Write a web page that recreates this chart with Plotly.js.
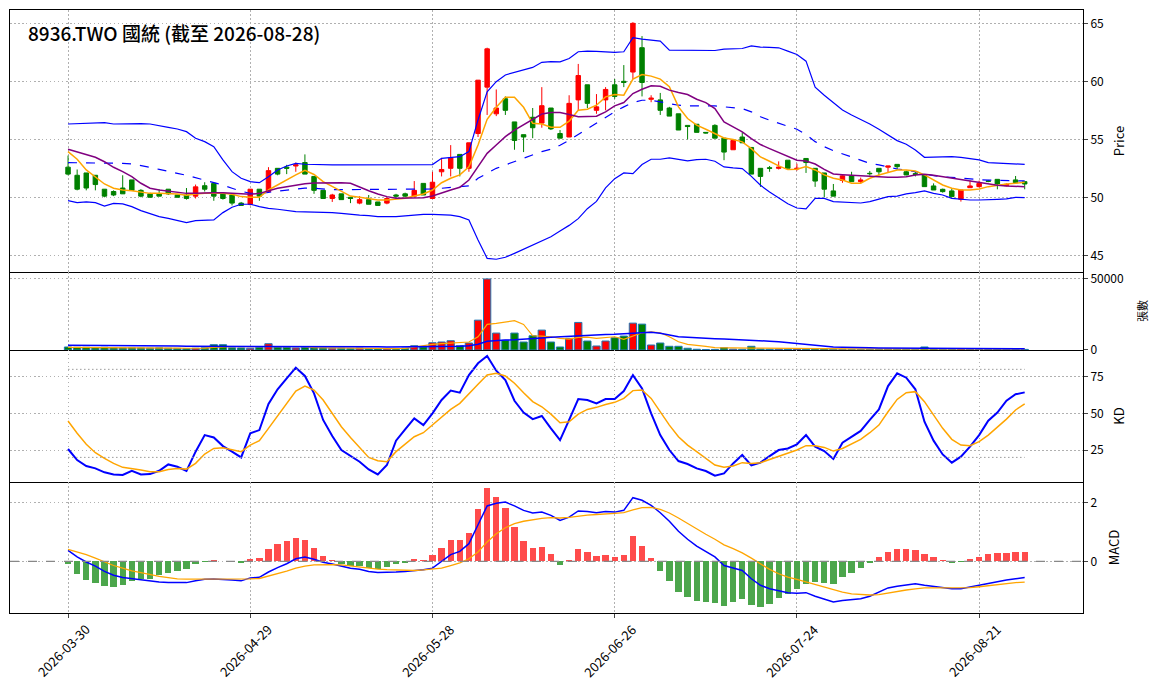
<!DOCTYPE html>
<html>
<head>
<meta charset="utf-8">
<script src="https://cdn.plot.ly/plotly-3.0.1.min.js"></script>
<style>
html, body { margin: 0; padding: 0; background: #fff; }
#plot { width: 1163px; height: 698px; }
</style>
</head>
<body>
<div id="plot"></div>
<script>
"use strict";

// ── Price (OHLC), one entry per trading day ──
const openP = [52.6,51.9,52.1,51.9,50.7,50.5,50.8,51.5,50.6,50.3,
  50.3,50.7,50.2,50.2,50.1,51.0,51.2,50.3,50.2,49.5,
  49.4,50.7,50.5,52.5,52.6,52.7,53.0,51.8,50.6,49.9,
  50.3,50.0,49.5,49.8,49.6,49.5,50.2,50.3,50.1,51.2,
  49.9,52.2,52.5,53.7,52.5,55.5,59.5,57.2,58.5,56.5,
  55.4,56.9,56.4,57.7,55.5,55.2,58.4,59.7,57.5,58.4,
  59.7,60.0,60.8,62.9,58.45,58.4,57.7,57.2,56.2,56.3,
  55.6,56.2,55.1,54.1,55.2,54.3,52.5,52.55,52.5,53.2,
  52.45,53.35,52.5,52.1,50.55,51.45,51.85,51.35,52.07,52.5,
  52.6,52.84,52.2,52.04,51.93,50.98,50.69,50.55,49.83,50.83,
  50.92,51.41,51.55,51.0,51.5,51.35];
const highP = [53.6,52.4,52.1,51.9,50.7,50.6,51.9,51.5,50.7,50.4,
  50.7,50.7,50.2,50.8,51.1,51.3,51.2,50.4,50.2,49.6,
  50.7,50.7,52.6,52.5,52.8,53.0,53.7,51.8,50.6,50.3,
  50.3,50.0,50.1,50.2,49.6,50.0,50.3,50.4,51.4,51.2,
  52.2,53.4,54.5,53.7,54.7,60.1,62.9,59.3,58.7,56.5,
  55.4,57.7,59.5,57.7,55.8,58.8,61.5,59.7,58.9,59.5,
  60.2,61.4,65.1,63.9,58.8,59.0,57.8,57.2,56.2,56.3,
  55.6,56.3,55.1,54.9,55.6,54.3,52.5,52.7,53.1,53.2,
  52.9,53.35,52.5,52.1,51.15,51.9,52.2,51.7,52.27,52.5,
  52.7,52.84,52.3,52.2,51.93,51.2,50.75,50.78,50.63,51.44,
  51.44,51.5,51.55,51.2,51.84,51.35];
const lowP = [51.9,50.6,50.6,50.6,50.0,50.1,50.3,50.6,50.0,50.0,
  50.1,50.2,50.0,49.8,49.9,50.5,49.7,49.8,49.3,49.3,
  49.3,49.7,50.5,51.9,52.0,52.2,52.0,50.3,49.9,49.6,
  49.8,49.5,49.4,49.4,49.3,49.4,49.9,50.0,50.0,50.2,
  49.9,51.8,51.8,51.8,52.2,55.2,57.1,57.0,57.1,54.1,
  53.9,55.1,56.0,55.8,55.1,55.2,57.5,57.7,57.2,57.5,
  58.5,59.5,60.2,58.7,58.2,57.1,57.0,55.8,55.0,55.6,
  55.5,55.1,53.2,54.1,54.7,52.0,50.9,52.2,52.4,52.5,
  52.3,52.1,50.9,50.0,50.1,51.25,51.35,51.2,51.87,51.9,
  52.15,52.4,51.9,51.8,50.92,50.63,50.4,50.0,49.63,50.83,
  50.85,51.3,50.69,50.95,51.3,50.69];
const closeP = [52.0,50.7,50.8,51.1,50.1,50.2,50.3,50.6,50.1,50.0,
  50.1,50.3,50.0,49.9,50.9,50.7,50.1,49.9,49.5,49.3,
  50.7,50.1,52.3,52.0,52.5,52.8,52.0,50.6,49.9,50.2,
  49.8,49.9,49.8,49.4,49.3,49.9,50.1,50.1,50.6,50.2,
  51.3,52.4,53.4,52.5,54.7,60.1,62.8,57.7,57.5,54.9,
  55.2,56.0,57.9,55.9,55.1,58.1,60.5,58.1,57.8,59.3,
  58.7,59.9,65.0,59.9,58.55,57.5,57.0,55.8,56.1,55.6,
  55.55,55.1,53.9,54.9,54.7,52.0,51.8,52.5,52.6,52.5,
  52.5,53.0,51.4,50.7,50.1,51.85,51.35,51.5,52.04,52.2,
  52.7,52.64,51.93,51.98,50.92,50.63,50.49,50.06,50.63,50.98,
  51.2,51.38,51.15,51.12,51.26,51.15];

// Bollinger band + moving averages
const bbUp = [56.32,56.35,56.32,56.38,56.44,56.32,56.35,56.38,56.35,56.32,
  56.2,56.03,55.89,55.66,55.09,54.8,54.37,53.22,52.21,51.64,
  51.35,51.26,51.78,52.36,52.7,52.93,52.85,52.82,52.8,52.8,
  52.8,52.8,52.82,52.83,52.83,52.82,52.8,52.8,52.8,52.8,
  52.82,53.36,53.45,53.5,53.94,56.67,59.1,59.97,60.55,60.75,
  60.98,61.2,61.64,61.7,61.68,61.97,62.55,62.6,62.58,62.55,
  62.49,62.55,63.76,63.64,63.58,63.47,62.69,62.69,62.66,62.63,
  62.63,62.66,62.78,62.8,62.83,63.06,62.95,62.92,62.89,62.6,
  62.32,61.74,59.5,58.8,58.2,57.53,57.1,56.72,56.32,55.86,
  55.37,54.89,54.57,54.08,53.45,53.48,53.5,53.5,53.45,53.36,
  53.22,52.99,52.96,52.93,52.9,52.84];
const bbMid = [52.99,52.99,52.93,52.93,52.93,52.93,52.93,52.87,52.76,52.59,
  52.41,52.27,52.07,51.9,51.7,51.49,51.29,51.06,50.78,50.52,
  50.34,50.34,50.43,50.52,50.63,50.72,50.8,50.78,50.7,50.67,
  50.66,50.66,50.66,50.66,50.66,50.66,50.66,50.66,50.68,50.7,
  50.72,50.78,50.83,50.92,50.98,51.64,52.07,52.5,52.79,53.07,
  53.36,53.65,53.94,54.15,54.49,54.92,55.41,55.93,56.45,56.94,
  57.37,57.8,58.17,58.37,58.37,58.23,58.09,57.94,57.89,57.89,
  57.89,57.89,57.8,57.71,57.65,57.37,56.94,56.65,56.42,56.13,
  55.87,55.42,54.8,54.37,54.02,53.74,53.45,53.16,52.93,52.79,
  52.59,52.44,52.36,52.21,52.01,51.87,51.78,51.7,51.64,51.58,
  51.52,51.49,51.47,51.44,51.43,51.41];
const bbLow = [49.71,49.54,49.6,49.54,49.25,49.48,49.43,49.2,48.85,48.56,
  48.33,48.19,47.99,47.82,47.99,48.05,48.05,48.68,49.14,49.4,
  49.4,49.2,49.05,48.97,48.85,48.76,48.74,48.74,48.71,48.68,
  48.62,48.53,48.47,48.42,48.33,48.33,48.33,48.4,48.48,48.53,
  48.53,48.53,48.47,48.33,48.05,46.32,44.74,44.66,44.83,45.17,
  45.52,45.89,46.26,46.6,47.1,47.58,48.16,49.02,49.65,50.81,
  51.61,52.1,52.04,52.82,53.28,53.28,53.4,53.25,53.14,53.25,
  53.28,53.11,52.62,52.53,52.47,51.81,51.04,50.46,49.94,49.45,
  49.08,49.0,49.91,49.91,49.63,49.6,49.57,49.51,49.63,49.83,
  50.06,50.11,50.29,50.4,50.55,50.34,50.2,49.91,49.83,49.77,
  49.77,49.83,49.83,49.86,50.0,49.97];
const maFast = [53.94,53.28,52.36,51.78,51.15,50.78,50.63,50.57,50.43,50.34,
  50.34,50.29,50.29,50.17,50.29,50.34,50.34,50.34,50.26,50.06,
  50.0,50.0,50.63,51.06,51.55,51.93,52.33,51.97,51.35,50.92,
  50.49,50.11,50.0,49.91,49.77,49.77,49.83,49.91,50.11,50.29,
  50.63,51.26,51.64,51.93,52.64,54.51,56.72,57.76,58.62,58.62,
  57.76,56.38,56.32,56.04,56.04,56.56,57.51,57.6,57.94,58.66,
  58.86,58.81,60.19,60.59,60.45,60.19,59.53,57.8,56.79,56.22,
  55.87,55.5,55.12,54.98,54.78,54.2,53.48,53.11,52.71,52.39,
  52.42,52.66,52.36,51.93,51.64,51.49,51.21,51.21,51.64,51.93,
  52.13,52.36,52.36,52.27,51.93,51.49,51.06,50.78,50.63,50.63,
  50.72,50.92,51.06,51.15,51.21,51.29];
const maSlow = [54.14,53.91,53.68,53.45,53.07,52.59,52.21,51.78,51.21,50.78,
  50.63,50.55,50.46,50.34,50.34,50.4,50.4,50.4,50.34,50.29,
  50.26,50.34,50.57,50.78,50.92,51.06,51.17,51.23,51.26,51.26,
  51.26,51.21,50.86,50.57,50.29,50.06,49.91,49.91,49.97,49.97,
  50.11,50.4,50.63,50.86,51.49,52.64,53.79,54.51,55.23,55.8,
  56.24,56.72,57.18,57.32,57.32,57.14,56.94,56.96,56.99,57.37,
  57.88,58.17,58.95,59.32,59.61,59.58,59.24,59.04,58.86,58.46,
  58.17,57.65,56.5,56.07,55.64,55.06,54.55,54.2,53.86,53.57,
  53.2,53.13,52.87,52.41,52.01,51.95,51.9,51.84,51.78,51.75,
  51.72,51.72,51.78,51.93,51.98,51.9,51.78,51.67,51.55,51.41,
  51.26,51.15,51.03,50.98,50.95,50.92];

// ── Volume (張) ──
const volume = [2100,1900,1900,1600,1900,1500,1400,1500,1400,1300,
  1500,1200,1100,1000,1200,1500,3700,3700,1500,1400,
  1200,1800,4400,2000,1800,1400,1700,1500,1400,1200,
  1200,1000,1300,900,1000,900,1100,1300,3000,2100,
  5100,5600,6500,3000,4900,21000,50000,11900,6800,11900,
  5600,10000,14000,5600,2100,8200,19400,6300,2800,6300,
  8600,9800,18900,18200,3500,4900,2600,2600,1200,500,
  300,400,1600,600,500,2600,700,500,600,500,
  700,600,900,800,600,500,400,300,300,400,
  500,400,500,400,2100,800,500,600,900,500,
  400,300,600,400,500,400];
const volMaFast = [1800,1800,1800,1800,1800,1700,1600,1500,1500,1400,
  1400,1400,1300,1200,1200,1300,1800,2200,2300,2300,
  2300,1900,2000,2100,2300,2300,2300,1700,1600,1400,
  1400,1300,1200,1100,1100,1000,1000,1100,2200,3000,
  3900,4500,5000,5200,5600,9300,18000,18700,19400,20600,
  18000,10000,9800,9300,8200,7700,8900,9100,8200,8900,
  9300,7500,10000,12100,12800,12100,9300,5800,4000,3500,
  2600,1600,1400,1400,1300,1300,1300,1200,1200,1100,
  1000,900,900,900,900,900,800,800,800,800,
  800,800,800,800,900,1000,1000,1000,1000,900,
  900,800,800,800,800,800];
const volMaSlow = [3300,3300,3200,3200,3100,3100,3000,3000,3000,2900,
  2900,2800,2800,2700,2700,2600,2600,2600,2600,2600,
  2600,2500,2500,2500,2400,2400,2400,2300,2300,2300,
  2300,2200,2200,2200,2200,2100,2100,2100,2100,2100,
  2100,2200,2300,2600,3000,4000,6100,6800,7000,7200,
  7500,7700,8400,8900,9300,9800,10200,10500,10700,10900,
  11000,11300,11700,12100,12400,11700,10500,9300,8900,8400,
  8200,7900,7700,7500,7200,6800,6500,6200,5800,5200,
  4700,4000,3000,2600,2100,1900,1600,1500,1500,1400,
  1400,1400,1300,1300,1300,1200,1200,1100,1100,1000,
  900,900,900,900,900,900];

// ── KD ──
const kLine = [25.7,18.2,14.1,12.5,9.8,8.4,8.0,10.9,8.4,8.6,
  10.9,15.2,13.6,10.7,23.9,35.2,33.6,27.7,23.9,20.0,
  36.4,38.6,56.4,66.4,73.9,81.1,75.5,63.6,45.5,34.5,
  25.0,20.9,17.0,11.8,8.4,14.8,31.4,39.1,46.6,42.0,
  50.0,59.1,65.5,64.1,76.1,84.1,89.1,79.1,72.7,58.6,
  50.5,46.1,48.2,39.8,31.8,45.5,59.8,59.1,56.8,59.8,
  59.8,65.2,76.1,67.0,50.0,35.2,25.0,17.5,15.5,12.5,
  10.7,7.5,9.1,15.9,21.6,14.5,16.4,20.9,25.0,26.1,
  28.9,35.2,27.3,24.3,18.9,30.0,34.1,38.0,45.5,52.7,
  68.6,77.3,74.3,66.4,44.3,31.4,22.0,16.4,20.5,27.3,
  35.2,45.0,50.5,58.6,63.0,64.3];
const dLine = [44.8,36.4,28.9,23.2,19.3,15.9,13.2,12.5,11.4,10.2,
  10.2,11.8,12.5,12.0,15.9,22.3,26.1,26.6,25.5,23.9,
  28.4,31.4,39.8,48.2,56.8,65.2,68.6,65.9,59.1,50.0,
  40.9,33.6,26.8,20.0,17.7,17.0,23.9,29.1,34.1,36.8,
  42.0,47.3,52.7,56.8,63.6,69.8,76.1,77.3,75.5,70.5,
  64.1,58.0,54.5,49.5,43.6,44.3,49.5,52.7,54.1,56.1,
  57.5,60.2,65.5,65.9,60.2,51.1,42.0,34.1,28.4,23.9,
  19.3,14.8,13.2,14.1,16.4,15.9,16.4,18.6,20.9,22.7,
  25.0,28.0,28.0,26.8,24.3,26.1,29.1,32.3,36.8,42.0,
  51.1,59.5,64.1,64.8,58.0,48.9,39.8,32.3,28.4,28.0,
  30.7,35.2,40.5,46.1,52.3,56.4];
const kdLevels = [20, 80];

// ── MACD ──
const macdHist = [-0.08,-0.42,-0.62,-0.72,-0.82,-0.86,-0.79,-0.68,-0.59,-0.59,
  -0.47,-0.38,-0.33,-0.25,-0.08,-0.02,0.05,0.01,0.0,-0.05,
  0.08,0.11,0.42,0.59,0.69,0.79,0.72,0.45,0.18,0.06,
  -0.08,-0.14,-0.17,-0.23,-0.25,-0.19,-0.08,-0.05,0.08,0.05,
  0.23,0.45,0.72,0.72,0.96,1.77,2.49,2.18,1.81,1.16,
  0.69,0.45,0.49,0.25,-0.11,0.05,0.42,0.32,0.18,0.21,
  0.15,0.21,0.86,0.52,0.11,-0.32,-0.66,-1.03,-1.20,-1.33,
  -1.37,-1.40,-1.50,-1.37,-1.27,-1.47,-1.54,-1.44,-1.23,-1.10,
  -0.93,-0.76,-0.69,-0.72,-0.76,-0.52,-0.38,-0.21,-0.05,0.15,
  0.32,0.42,0.42,0.38,0.25,0.15,0.05,-0.05,-0.01,0.08,
  0.15,0.25,0.28,0.28,0.32,0.32];
const macdDif = [0.37,0.15,-0.02,-0.16,-0.34,-0.47,-0.55,-0.59,-0.64,-0.68,
  -0.70,-0.72,-0.72,-0.72,-0.66,-0.61,-0.60,-0.61,-0.63,-0.66,
  -0.56,-0.54,-0.36,-0.21,-0.08,0.09,0.15,0.07,-0.03,-0.09,
  -0.16,-0.23,-0.27,-0.34,-0.38,-0.38,-0.36,-0.34,-0.32,-0.28,
  -0.23,0.0,0.23,0.34,0.60,1.24,1.88,1.97,2.01,1.88,
  1.73,1.64,1.67,1.56,1.39,1.50,1.71,1.69,1.65,1.69,
  1.67,1.73,2.16,2.07,1.90,1.65,1.36,1.02,0.75,0.52,
  0.32,0.15,-0.14,-0.23,-0.31,-0.59,-0.81,-0.93,-0.99,-1.06,
  -1.08,-1.06,-1.18,-1.29,-1.38,-1.33,-1.31,-1.27,-1.18,-1.04,
  -0.90,-0.84,-0.79,-0.76,-0.81,-0.85,-0.88,-0.93,-0.93,-0.87,
  -0.81,-0.73,-0.68,-0.63,-0.59,-0.55];
const macdDea = [0.41,0.32,0.23,0.11,-0.02,-0.14,-0.23,-0.32,-0.38,-0.45,
  -0.51,-0.55,-0.59,-0.60,-0.60,-0.61,-0.60,-0.60,-0.60,-0.60,
  -0.59,-0.58,-0.50,-0.42,-0.33,-0.23,-0.16,-0.12,-0.11,-0.11,
  -0.12,-0.16,-0.19,-0.23,-0.26,-0.28,-0.29,-0.31,-0.31,-0.29,
  -0.27,-0.23,-0.14,-0.05,0.09,0.32,0.66,0.94,1.14,1.28,
  1.36,1.41,1.46,1.48,1.47,1.49,1.54,1.57,1.59,1.62,
  1.63,1.65,1.75,1.82,1.83,1.76,1.64,1.47,1.28,1.11,
  0.92,0.75,0.56,0.43,0.29,0.11,-0.08,-0.27,-0.42,-0.53,
  -0.61,-0.70,-0.79,-0.88,-0.96,-1.04,-1.10,-1.13,-1.14,-1.13,
  -1.07,-1.02,-0.97,-0.93,-0.90,-0.90,-0.90,-0.90,-0.90,-0.89,
  -0.86,-0.82,-0.79,-0.76,-0.72,-0.70];

// x-axis labels: every 20th trading day
const tickIdx = [0, 20, 40, 60, 80, 100];
const tickDates = ["2026-03-30", "2026-04-29", "2026-05-28",
                   "2026-06-26", "2026-07-24", "2026-08-21"];

const titleText = "8936.TWO 國統 (截至 2026-08-28)";

const FONT = "'Noto Sans CJK TC', 'DejaVu Sans', sans-serif";
const UP = "#ff0000", DOWN = "#008000";
const BLUE = "#0000ff", ORANGE = "#ffa500", PURPLE = "#800080";
const DOTS = "1.5px,2.5px";

const idx = closeP.map((_, i) => i);
const lastIdx = idx[idx.length - 1];
const volColors = closeP.map((c, i) => c >= openP[i] ? UP : DOWN);
const histColors = macdHist.map(v => v >= 0 ? "#ff4b4b" : "#4ca64c");

const line = (y, ax, color, width, dash) => ({
    type: "scatter", mode: "lines", x: idx, y: y,
    xaxis: ax[0], yaxis: ax[1],
    line: { color: color, width: width, dash: dash || "solid" },
    hoverinfo: "skip", showlegend: false,
});

const traces = [
    { type: "candlestick", x: idx,
      open: openP, high: highP, low: lowP, close: closeP,
      xaxis: "x", yaxis: "y",
      increasing: { line: { color: UP, width: 1 }, fillcolor: UP },
      decreasing: { line: { color: DOWN, width: 1 }, fillcolor: DOWN },
      whiskerwidth: 0, showlegend: false, hoverinfo: "skip" },
    line(bbUp,  ["x", "y"], BLUE, 1.2),
    line(bbLow, ["x", "y"], BLUE, 1.2),
    line(bbMid, ["x", "y"], BLUE, 1.2, "dash"),
    line(maFast, ["x", "y"], ORANGE, 1.5),
    line(maSlow, ["x", "y"], PURPLE, 1.5),

    { type: "bar", x: idx, y: volume, xaxis: "x2", yaxis: "y2",
      width: 0.8,
      marker: { color: volColors, line: { color: "#1f77b4", width: 1 } },
      hoverinfo: "skip", showlegend: false },
    line(volMaFast, ["x2", "y2"], ORANGE, 1.2),
    line(volMaSlow, ["x2", "y2"], BLUE, 1.5),

    line(kLine, ["x3", "y3"], BLUE, 2),
    line(dLine, ["x3", "y3"], ORANGE, 1.5),

    { type: "bar", x: idx, y: macdHist, xaxis: "x4", yaxis: "y4",
      width: 0.7, marker: { color: histColors },
      hoverinfo: "skip", showlegend: false },
    line(macdDif, ["x4", "y4"], BLUE, 1.5),
    line(macdDea, ["x4", "y4"], ORANGE, 1.3),
];

const gridStyle = {
    showgrid: true, gridcolor: "#b0b0b0", griddash: DOTS, gridwidth: 1,
    showline: true, linecolor: "#000", linewidth: 1, mirror: true,
    zeroline: false,
};
// Only the price panel mirrors its x line to the top; the lower panels
// take their top edge from the panel above, so borders stay 1px.
const xBase = (mirror) => Object.assign({}, gridStyle, {
    range: [-6.37, 111.4], tickmode: "array", tickvals: tickIdx,
    showticklabels: false, ticks: "", mirror: mirror,
});
const yBase = (domain, range, tickvals, title, titleSize, standoff) =>
    Object.assign({}, gridStyle, {
        domain: domain, range: range, side: "right",
        tickmode: "array", tickvals: tickvals, tickformat: "d",
        ticks: "outside", ticklen: 4,
        tickfont: { family: FONT, size: 12, color: "#000" },
        title: { text: title, standoff: standoff,
                 font: { family: FONT, size: titleSize, color: "#000" } },
    });

const kdShapes = kdLevels.map(v => ({
    type: "line", xref: "x3", yref: "y3",
    x0: idx[0], x1: lastIdx, y0: v, y1: v,
    line: { color: "#999", width: 1, dash: DOTS },
}));

// Date labels rotated 45° and centred on their tick, like the original.
const dateLabels = tickIdx.map((t, i) => ({
    text: tickDates[i], xref: "x4", yref: "paper",
    x: t, y: 0, yshift: -4, xshift: -5, xanchor: "center", yanchor: "top",
    textangle: -45, showarrow: false,
    font: { family: FONT, size: 13, color: "#000" },
}));

const layout = {
    width: 1163, height: 698,
    margin: { l: 10, r: 80, t: 10, b: 85 },
    paper_bgcolor: "#fff", plot_bgcolor: "#fff",
    font: { family: FONT, color: "#000" },
    showlegend: false,
    bargap: 0,
    xaxis:  Object.assign(xBase(true),  { anchor: "y",  matches: "x4",
                                          rangeslider: { visible: false } }),
    xaxis2: Object.assign(xBase(false), { anchor: "y2", matches: "x4" }),
    xaxis3: Object.assign(xBase(false), { anchor: "y3", matches: "x4" }),
    xaxis4: Object.assign(xBase(false), { anchor: "y4",
                                          ticks: "outside", ticklen: 4 }),
    yaxis:  yBase([0.5655, 1], [43.56, 66.15], [45, 50, 55, 60, 65], "Price", 13, 11),
    yaxis2: yBase([0.4362, 0.5655], [0, 54900], [0, 50000], "張數", 11, 16),
    yaxis3: yBase([0.2172, 0.4362], [3.2, 93.2], [25, 50, 75], "KD", 13, 11),
    yaxis4: yBase([0, 0.2172], [-1.75, 2.69], [0, 2], "MACD", 13, 13),
    shapes: [
        ...kdShapes,
        { type: "line", xref: "x4 domain", yref: "y4",
          x0: 0, x1: 1, y0: 0, y1: 0,
          line: { color: "#888", width: 1.2, dash: "dash" } },
    ],
    annotations: [
        { text: titleText, xref: "paper", yref: "paper",
          x: 0.0149, y: 0.9635, xanchor: "left", yanchor: "middle",
          showarrow: false,
          font: { family: FONT, size: 19, color: "#000", weight: 500 } },
        ...dateLabels,
    ],
};

Plotly.newPlot("plot", traces, layout, { displayModeBar: false, staticPlot: true });
</script>
</body>
</html>
